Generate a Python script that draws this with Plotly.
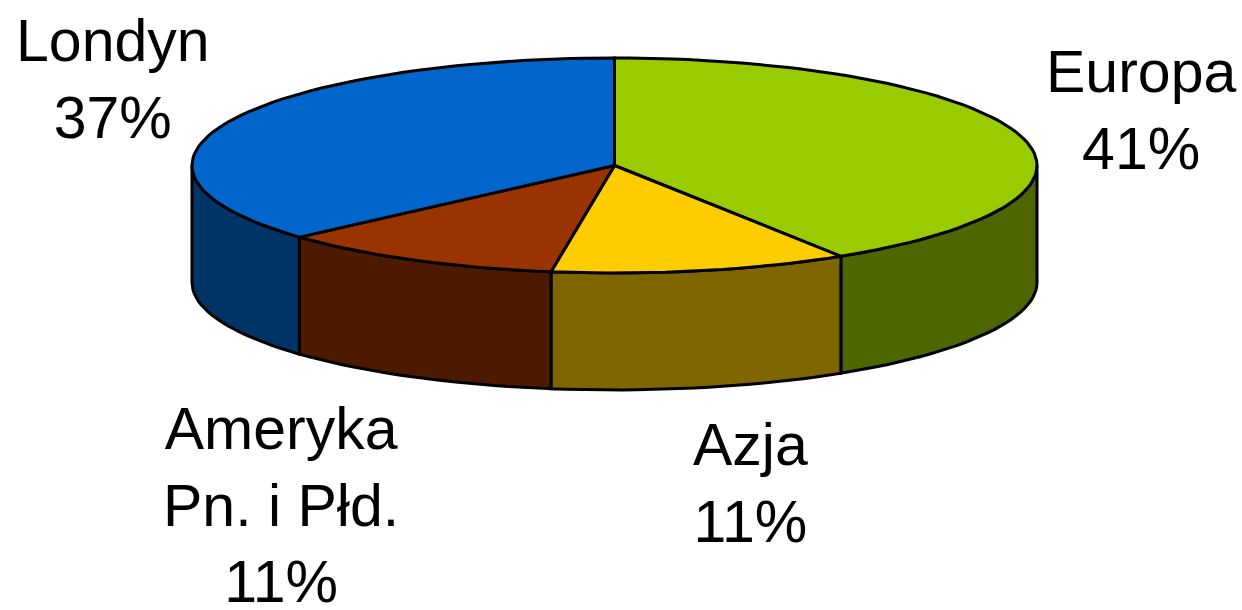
import numpy as np
import plotly.graph_objects as go

categories = ["Europa", "Azja", "Ameryka<br>Pn. i Płd.", "Londyn"]
shares = [41.0, 11.4, 11.0, 36.6]
share_labels = ["41%", "11%", "11%", "37%"]
top_colors = ["#99CC00", "#FFCC00", "#993300", "#0066CC"]
side_colors = ["#4D6600", "#806600", "#4D1A00", "#003366"]
label_x = [1141, 750, 281, 113]
label_y = [110, 483, 505, 79]

CX, CY, RX, RY, DEPTH = 614.5, 165.5, 422.5, 107.5, 117.0
LINE = dict(color="#000000", width=3)


def arc(a0, a1):
    n = max(2, int(abs(a1 - a0) / 2) + 2)
    t = np.radians(np.linspace(a0, a1, n))
    return CX + RX * np.sin(t), CY - RY * np.cos(t)


fig = go.Figure()
edges = np.concatenate([[0], np.cumsum(shares)]) * 3.6

# side walls: only the part of each slice facing the viewer (90..270 degrees)
for i, c in enumerate(side_colors):
    a0, a1 = max(edges[i], 90), min(edges[i + 1], 270)
    if a1 <= a0:
        continue
    x, y = arc(a0, a1)
    fig.add_trace(go.Scatter(
        x=np.concatenate([x, x[::-1], x[:1]]),
        y=np.concatenate([y, y[::-1] + DEPTH, y[:1]]),
        mode="lines", fill="toself", fillcolor=c, line=LINE, hoverinfo="skip"))

# top faces
for i, c in enumerate(top_colors):
    x, y = arc(edges[i], edges[i + 1])
    fig.add_trace(go.Scatter(
        x=np.concatenate([[CX], x, [CX]]),
        y=np.concatenate([[CY], y, [CY]]),
        mode="lines", fill="toself", fillcolor=c, line=LINE, hoverinfo="skip"))

for name, pct, lx, ly in zip(categories, share_labels, label_x, label_y):
    fig.add_annotation(x=lx, y=ly, xref="x", yref="y", text=f"{name}<br>{pct}",
                       showarrow=False, xanchor="center", yanchor="middle", align="center",
                       font=dict(family="Liberation Sans", size=59, color="#000000"))

fig.update_layout(
    width=1242, height=610, margin=dict(l=0, r=0, t=0, b=0),
    paper_bgcolor="#FFFFFF", plot_bgcolor="#FFFFFF", showlegend=False,
    xaxis=dict(range=[0, 1242], visible=False, fixedrange=True),
    yaxis=dict(range=[610, 0], visible=False, fixedrange=True),
)
fig.write_html("out.html", config={"displayModeBar": False},
               post_script="document.body.style.margin='0';document.body.style.overflow='hidden';")
